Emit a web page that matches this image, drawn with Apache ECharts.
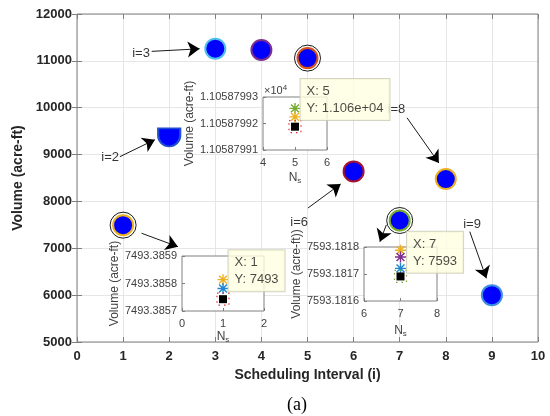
<!DOCTYPE html>
<html><head><meta charset="utf-8">
<script src="https://cdn.jsdelivr.net/npm/echarts@6/dist/echarts.min.js"></script>
<style>html,body{margin:0;padding:0;background:#fff}#c{width:550px;height:416px}</style>
</head><body><div id="c"></div>
<script>
// ---------- main data ----------
const intervals = [1, 2, 3, 4, 5, 6, 7, 8, 9];
const volumes = [7493.39, 9410, 11260, 11232, 11058.8, 8641, 7593.18, 8478, 6000];
const zoomedIntervals = [1, 5, 7];
const xTickValues = [0, 1, 2, 3, 4, 5, 6, 7, 8, 9, 10];
const yTickValues = [5000, 6000, 7000, 8000, 9000, 10000, 11000, 12000];

// ---------- annotations (data coordinates) ----------
const annoTexts = ['i=2', 'i=3', 'i=6', 'i=8', 'i=9'];
const annoAt = [[0.72, 8940], [1.39, 11161], [4.82, 7548], [6.93, 9961], [8.57, 7499]];
const arrowFrom = [[0.93, 8955], [1.62, 11203], [5.01, 7859], [7.16, 9784], [8.52, 7355], [1.40, 7321], [6.71, 7499]];
const arrowTo = [[1.69, 9318], [2.66, 11257], [5.72, 8373], [7.85, 8820], [8.88, 6358], [2.19, 7034], [6.57, 7141]];

// ---------- inset A (i=5) ----------
const insA_x = [4, 5, 6];
const insA_ticks = [11058.7991, 11058.7992, 11058.7993];
const insA_vals = [11058.799257, 11058.799225, 11058.799188]; // green *, orange *, black square
const insA_Ns = 5;
// ---------- inset B (i=1) ----------
const insB_x = [0, 1, 2];
const insB_ticks = [7493.3857, 7493.3858, 7493.3859];
const insB_vals = [7493.385814, 7493.385782, 7493.385743]; // orange *, blue *, black square
const insB_Ns = 1;
// ---------- inset C (i=7) ----------
const insC_x = [6, 7, 8];
const insC_ticks = [7593.1816, 7593.1817, 7593.1818];
const insC_vals = [7593.181788, 7593.181763, 7593.181721, 7593.181691]; // orange *, purple *, blue *, black square
const insC_Ns = 7;
// datatip texts
const tipA = ['X: 5', 'Y: 1.106e+04'];
const tipB = ['X: 1', 'Y: 7493'];
const tipC = ['X: 7', 'Y: 7593'];

// ---------- styles ----------
const edgeColors = ['#EDB120', '#1f4fd0', '#4DBEEE', '#7E2F8E', '#D95319', '#A2142F', '#77AC30', '#EDB120', '#3d8fe0'];
const C_GREEN = '#77AC30', C_ORANGE = '#EDB120', C_BLUE = '#1f86d0', C_PURPLE = '#7E2F8E';
const AST = 'path://M0,-6L0,6M-6,0L6,0M-4.3,-4.3L4.3,4.3M-4.3,4.3L4.3,-4.3';
const HALF = 'path://M-11,-7L11,-7L11,0A11,11 0 0 1 -11,0Z';
const FONT = 'Liberation Sans';
const BOX = '#808080';

const chart = echarts.init(document.getElementById('c'), null, {renderer: 'canvas'});

function insetX(idx, gridIndex, xs, gap) {
  return {
    gridIndex, type: 'value', min: xs[0], max: xs[xs.length - 1], interval: 1, z: 3,
    axisLine: {show: false}, splitLine: {show: false},
    axisTick: {inside: true, length: 3, lineStyle: {color: BOX}},
    axisLabel: {fontSize: 11, color: '#404040', fontFamily: FONT, margin: 7},
    name: '{n|N}{s|s}', nameLocation: 'middle', nameGap: gap,
    nameTextStyle: {rich: {n: {fontSize: 12, color: '#404040', fontFamily: FONT},
      s: {fontSize: 8, color: '#404040', fontFamily: FONT, verticalAlign: 'bottom', padding: [6, 0, 0, 0]}}}
  };
}
function insetY(gridIndex, ticks, fmt, name, gap) {
  return {
    gridIndex, type: 'value', min: ticks[0], max: ticks[ticks.length - 1], z: 3, scale: true,
    axisLine: {show: false}, splitLine: {show: false},
    axisTick: {inside: true, length: 3, lineStyle: {color: BOX}, customValues: ticks},
    axisLabel: {fontSize: 11, color: '#404040', fontFamily: FONT, margin: 5, customValues: ticks, formatter: fmt},
    name, nameLocation: 'middle', nameGap: gap,
    nameTextStyle: {fontSize: 12, color: '#404040', fontFamily: FONT}
  };
}
function star(xi, yi, x, y, color, z) {
  return {type: 'scatter', xAxisIndex: xi, yAxisIndex: yi, symbol: AST, symbolSize: 11, z: z || 4,
    itemStyle: {color: 'transparent', borderColor: color, borderWidth: 1.4, opacity: 1}, silent: true, data: [[x, y]]};
}
function square(xi, yi, x, y, dotColor) {
  return [
    {type: 'scatter', xAxisIndex: xi, yAxisIndex: yi, symbol: 'rect', symbolSize: 12, z: 4,
      itemStyle: {color: 'transparent', borderColor: dotColor, borderWidth: 1.2, borderType: [1.5, 4], opacity: 1}, data: [[x, y]]},
    {type: 'scatter', xAxisIndex: xi, yAxisIndex: yi, symbol: 'rect', symbolSize: 8, z: 5,
      itemStyle: {color: '#000', opacity: 1}, data: [[x, y]]}
  ];
}
function tip(xi, yi, x, y, lines, pos) {
  return {type: 'scatter', xAxisIndex: xi, yAxisIndex: yi, symbolSize: 1, z: 20,
    itemStyle: {color: 'transparent'}, silent: true,
    label: {show: true, position: pos, formatter: lines.join('\n'), fontFamily: FONT, fontSize: 13,
      color: '#1a1a1a', lineHeight: 17, backgroundColor: '#ffffe1', borderColor: '#c9c9b5', borderWidth: 1,
      padding: [4, 6, 3, 6], align: 'left', verticalAlign: 'top'},
    data: [[x, y]]};
}

const mainData = intervals.map((x, i) => ({
  value: [x, volumes[i]],
  symbol: i === 1 ? HALF : 'circle',
  symbolSize: i === 1 ? [22, 18] : 20,
  symbolOffset: i === 1 ? [0, 2] : [0, 0],
  itemStyle: {borderColor: edgeColors[i]}
}));
const ringData = zoomedIntervals.map(x => [x, volumes[intervals.indexOf(x)]]);

const option = {
  animation: false,
  backgroundColor: '#fff',
  grid: [
    {left: 77, top: 14, width: 461, height: 328, show: true, borderColor: BOX, borderWidth: 1, backgroundColor: 'transparent', z: 1},
    {left: 263, top: 97, width: 64, height: 53, show: true, borderColor: BOX, borderWidth: 1, backgroundColor: '#fff', z: 2},
    {left: 182, top: 256, width: 82, height: 55, show: true, borderColor: BOX, borderWidth: 1, backgroundColor: '#fff', z: 2},
    {left: 364, top: 247, width: 73, height: 54, show: true, borderColor: BOX, borderWidth: 1, backgroundColor: '#fff', z: 2}
  ],
  xAxis: [
    {gridIndex: 0, type: 'value', min: xTickValues[0], max: xTickValues[xTickValues.length - 1], interval: 1, z: 0,
      axisLine: {show: false}, axisTick: {inside: true, length: 5, lineStyle: {color: BOX}},
      splitLine: {show: true, lineStyle: {color: '#e6e6e6', width: 1}},
      axisLabel: {fontSize: 13, fontWeight: 'bold', color: '#262626', fontFamily: FONT, margin: 8, formatter: v => String(v)},
      name: 'Scheduling Interval (i)', nameLocation: 'middle', nameGap: 25,
      nameTextStyle: {fontSize: 14, fontWeight: 'bold', color: '#262626', fontFamily: FONT}},
    {gridIndex: 0, type: 'value', position: 'top', min: 0, max: 10, interval: 1, z: 0,
      axisLine: {show: false}, axisLabel: {show: false}, splitLine: {show: false},
      axisTick: {inside: true, length: 5, lineStyle: {color: BOX}}},
    insetX(2, 1, insA_x, 21),
    insetX(3, 2, insB_x, 19),
    insetX(4, 3, insC_x, 23)
  ],
  yAxis: [
    {gridIndex: 0, type: 'value', min: yTickValues[0], max: yTickValues[yTickValues.length - 1], interval: 1000, z: 0,
      axisLine: {show: false}, axisTick: {inside: true, length: 5, lineStyle: {color: BOX}},
      splitLine: {show: true, lineStyle: {color: '#e6e6e6', width: 1}},
      axisLabel: {fontSize: 13, fontWeight: 'bold', color: '#262626', fontFamily: FONT, margin: 5, formatter: v => String(v)},
      name: 'Volume (acre-ft)', nameLocation: 'middle', nameGap: 45,
      nameTextStyle: {fontSize: 14, fontWeight: 'bold', color: '#262626', fontFamily: FONT}},
    {gridIndex: 0, type: 'value', position: 'right', min: 5000, max: 12000, interval: 1000, z: 0,
      axisLine: {show: false}, axisLabel: {show: false}, splitLine: {show: false},
      axisTick: {inside: true, length: 5, lineStyle: {color: BOX}}},
    insetY(1, insA_ticks, v => (v / 1e4).toFixed(8), 'Volume (acre-ft)', 61),
    insetY(2, insB_ticks, v => v.toFixed(4), 'Volume (acre-ft)', 57),
    insetY(3, insC_ticks, v => v.toFixed(4), 'Volume (acre-ft))', 57)
  ],
  graphic: [
    {type: 'text', left: 264, top: 84, z: 10, style: {text: '×10{s|4}', fontSize: 11, fontFamily: FONT, fill: '#404040',
      rich: {s: {fontSize: 8, fontFamily: FONT, fill: '#404040', verticalAlign: 'top', padding: [0, 0, 6, 0]}}}},
    {type: 'text', left: 287, top: 396, style: {text: '(a)', fontSize: 18, fontFamily: 'Liberation Serif', fill: '#000'}}
  ],
  series: [
    // arrows
    {type: 'lines', coordinateSystem: 'cartesian2d', xAxisIndex: 0, yAxisIndex: 0, z: 6, silent: true,
      symbol: ['none', 'arrow'], symbolSize: [1, 12],
      lineStyle: {color: '#000', width: 0.9, opacity: 1, curveness: 0},
      data: arrowFrom.map((a, i) => ({coords: [a, arrowTo[i]]}))},
    // annotation texts
    {type: 'scatter', xAxisIndex: 0, yAxisIndex: 0, symbolSize: 1, z: 6, silent: true,
      itemStyle: {color: 'transparent'},
      label: {show: true, position: 'inside', formatter: p => p.name, fontSize: 13, fontFamily: FONT, color: '#000'},
      data: annoTexts.map((t, i) => ({name: t, value: annoAt[i]}))},
    // rings around zoomed points
    {type: 'scatter', xAxisIndex: 0, yAxisIndex: 0, symbol: 'circle', symbolSize: 26, z: 3, silent: true,
      itemStyle: {color: 'transparent', borderColor: '#000', borderWidth: 0.9, opacity: 1}, data: ringData},
    // main points
    {type: 'scatter', xAxisIndex: 0, yAxisIndex: 0, z: 4, silent: true,
      itemStyle: {color: '#0000ff', borderWidth: 2, opacity: 1}, data: mainData},
    // inset A
    star(2, 2, insA_Ns, insA_vals[0], C_GREEN),
    star(2, 2, insA_Ns, insA_vals[1], C_ORANGE),
    ...square(2, 2, insA_Ns, insA_vals[2], '#e03030'),
    // inset B
    star(3, 3, insB_Ns, insB_vals[0], C_ORANGE),
    star(3, 3, insB_Ns, insB_vals[1], C_BLUE),
    ...square(3, 3, insB_Ns, insB_vals[2], '#e03030'),
    // inset C
    star(4, 4, insC_Ns, insC_vals[0], C_ORANGE),
    star(4, 4, insC_Ns, insC_vals[1], C_PURPLE),
    star(4, 4, insC_Ns, insC_vals[2], C_BLUE),
    ...square(4, 4, insC_Ns, insC_vals[3], C_GREEN),
    // datatips
    tip(2, 2, insA_Ns, insA_vals[0], tipA, [6, -29]),
    tip(3, 3, insB_Ns, insB_vals[0], tipB, [6, -29]),
    tip(4, 4, insC_Ns, insC_vals[0], tipC, [7, -18])
  ]
};
chart.setOption(option);
</script></body></html>
